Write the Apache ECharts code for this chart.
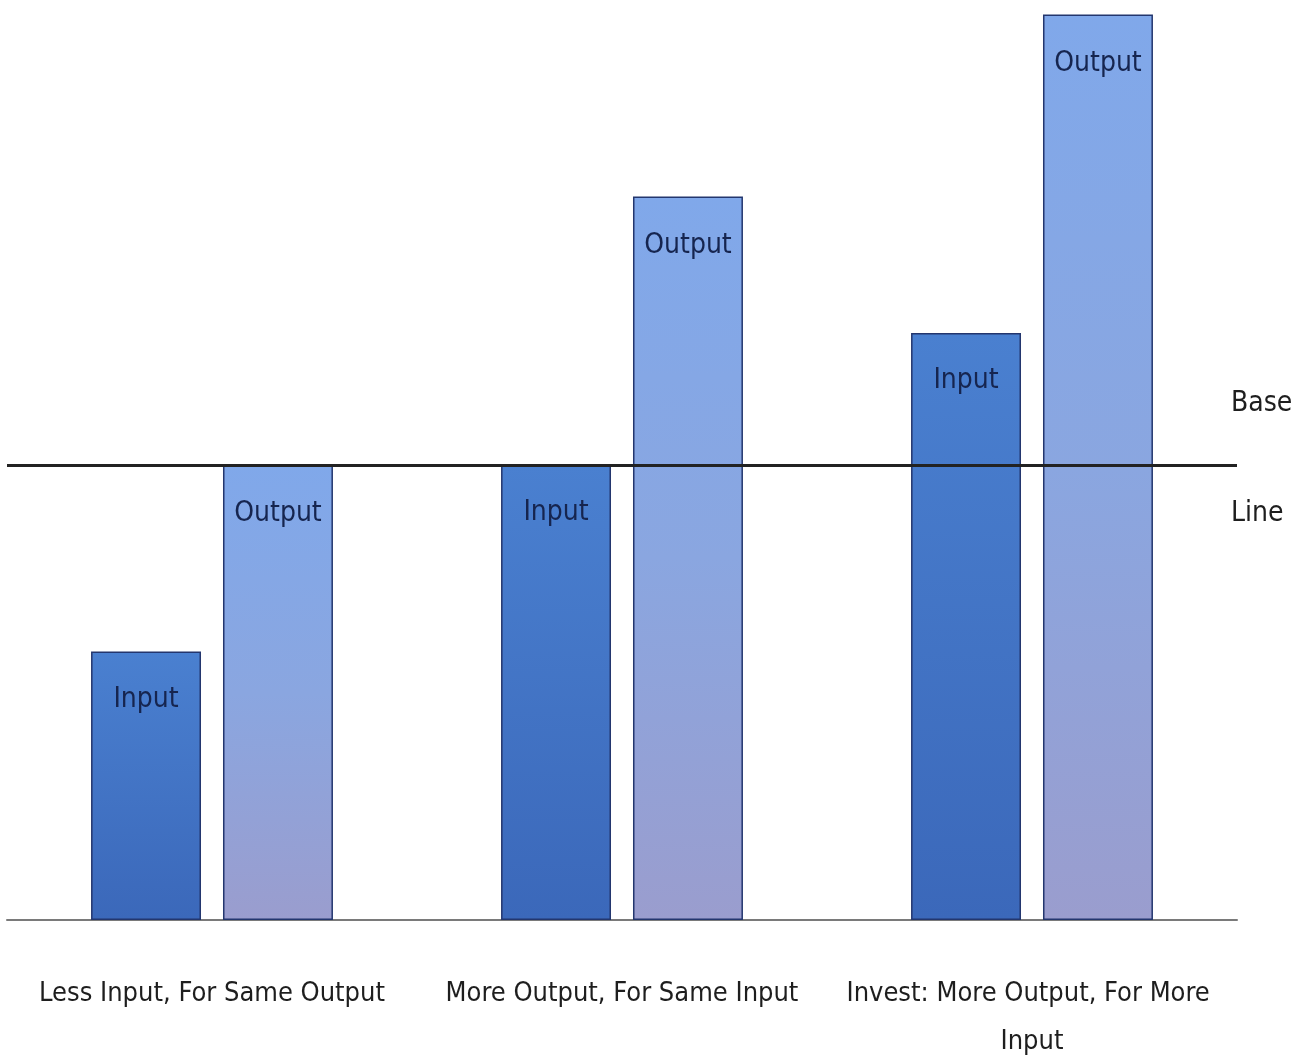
<!DOCTYPE html>
<html>
<head>
<meta charset="utf-8">
<script src="https://cdn.jsdelivr.net/npm/echarts@6/dist/echarts.min.js"></script>
<style>
  html, body { margin: 0; padding: 0; background: #fff; }
  #main { width: 1295px; height: 1059px; }
</style>
</head>
<body>
<div id="main"></div>
<script>
var categories = ['Less Input, For Same Output', 'More Output, For Same Input', 'Invest: More Output, For More Input'];
var inputValues = [59, 100, 129];
var outputValues = [100, 159, 199];
var baseLine = 100;

var font = '"DejaVu Sans Condensed", "Liberation Sans Narrow", sans-serif';

var myChart = echarts.init(document.getElementById('main'));
myChart.setOption({
  backgroundColor: '#fff',
  animation: false,
  grid: { left: 7, right: 58, top: 10, bottom: 139, outerBoundsMode: 'none', containLabel: false },
  xAxis: {
    type: 'category',
    data: categories,
    axisTick: { show: false },
    axisLine: { lineStyle: { color: '#7a7a7a', width: 2 } },
    axisLabel: {
      interval: 0,
      margin: 50,
      fontFamily: font,
      fontSize: 27,
      color: '#1e1e1e',
      lineHeight: 48,
      width: 385,
      overflow: 'break'
    }
  },
  yAxis: {
    type: 'value',
    min: 0,
    max: 200,
    show: false
  },
  series: [
    {
      name: 'Input',
      type: 'bar',
      data: inputValues,
      barGap: '20%',
      barCategoryGap: '41%',
      itemStyle: {
        color: new echarts.graphic.LinearGradient(0, 0, 0, 1, [
          { offset: 0, color: '#4a80d0' },
          { offset: 1, color: '#3b68ba' }
        ]),
        borderColor: '#23366e',
        borderWidth: 1.5
      },
      label: {
        show: true,
        position: 'insideTop',
        distance: 34,
        formatter: '{a}',
        fontFamily: font,
        fontSize: 28,
        color: '#16254f'
      },
      markLine: {
        symbol: 'none',
        silent: true,
        lineStyle: { color: '#222', width: 3, type: 'solid' },
        label: {
          position: 'end',
          distance: -6,
          offset: [0, -6],
          formatter: 'Base\n\nLine',
          fontFamily: font,
          fontSize: 28,
          lineHeight: 55,
          color: '#1e1e1e'
        },
        data: [{ yAxis: baseLine }]
      }
    },
    {
      name: 'Output',
      type: 'bar',
      data: outputValues,
      itemStyle: {
        color: new echarts.graphic.LinearGradient(0, 0, 0, 1, [
          { offset: 0, color: '#80a8ea' },
          { offset: 0.5, color: '#8aa6e0' },
          { offset: 1, color: '#9a9dce' }
        ]),
        borderColor: '#23366e',
        borderWidth: 1.5
      },
      label: {
        show: true,
        position: 'insideTop',
        distance: 35,
        formatter: '{a}',
        fontFamily: font,
        fontSize: 28,
        color: '#16254f'
      }
    }
  ]
});
</script>
</body>
</html>
